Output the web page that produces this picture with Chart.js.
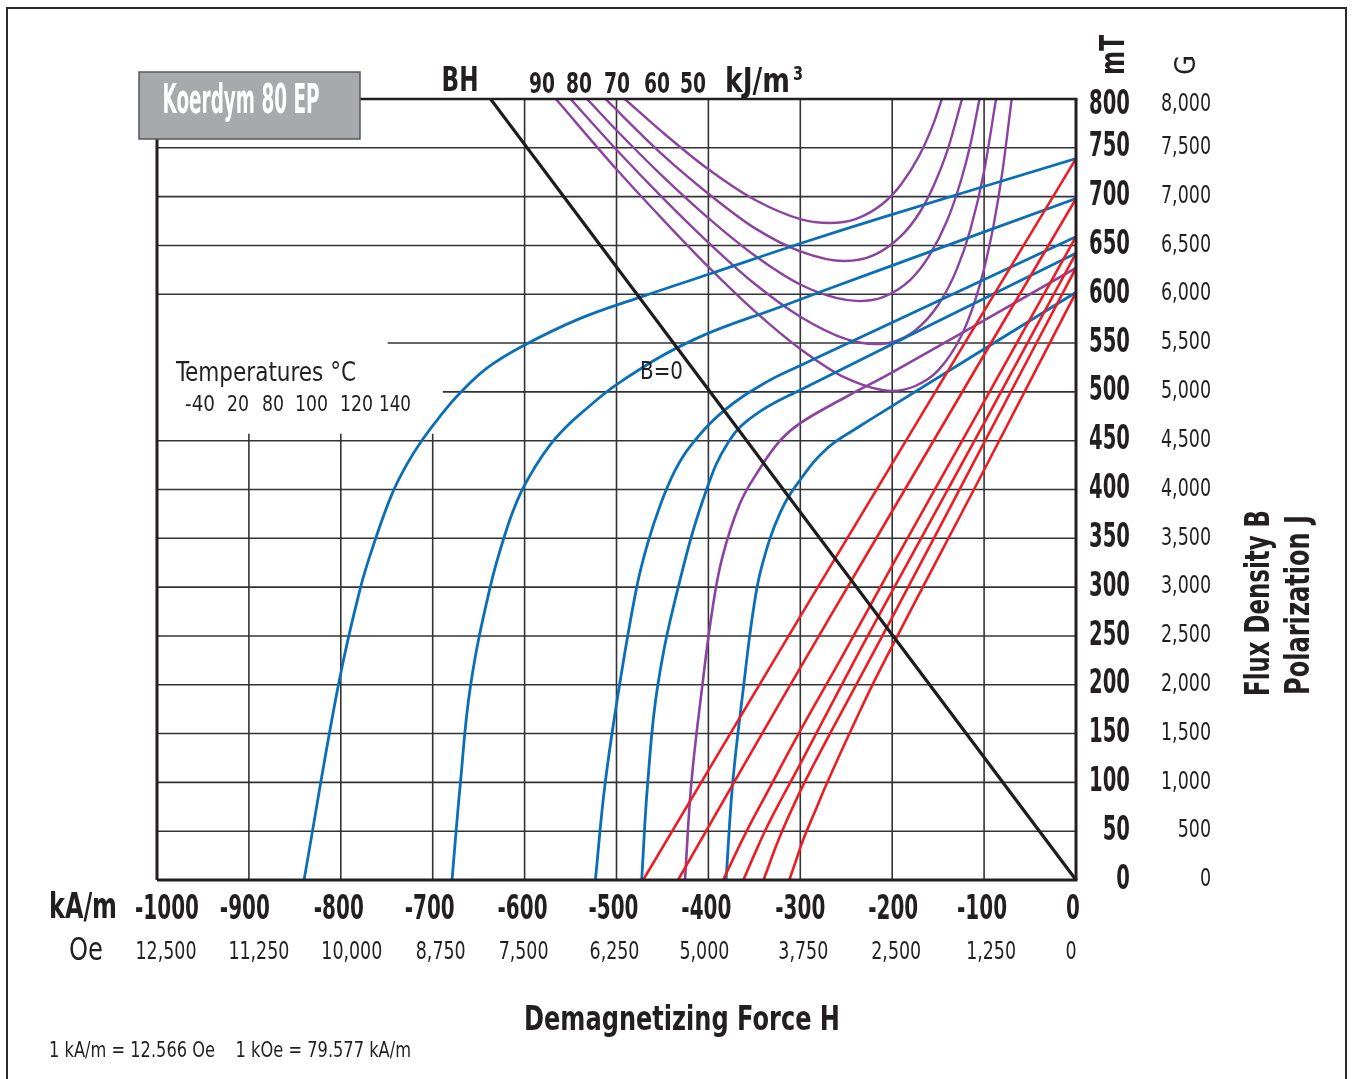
<!DOCTYPE html>
<html><head><meta charset="utf-8">
<script src="https://cdn.jsdelivr.net/npm/chart.js@4.4.1/dist/chart.umd.min.js"></script>
<style>
html,body{margin:0;padding:0;background:#fff;}
#wrap{position:relative;width:1353px;height:1079px;}
</style></head><body>
<div id="wrap"><canvas id="c" width="1353" height="1079"></canvas></div>
<script>
// ---------- DATA ----------
const hTicks = [-1000,-900,-800,-700,-600,-500,-400,-300,-200,-100,0];
const hTickLabels = ['-1000','-900','-800','-700','-600','-500','-400','-300','-200','-100','0'];
const oeLabels = ['12,500','11,250','10,000','8,750','7,500','6,250','5,000','3,750','2,500','1,250','0'];
const bTicks = [0,50,100,150,200,250,300,350,400,450,500,550,600,650,700,750,800];
const bTickLabels = ['0','50','100','150','200','250','300','350','400','450','500','550','600','650','700','750','800'];
const gaussLabels = ['0','500','1,000','1,500','2,000','2,500','3,000','3,500','4,000','4,500','5,000','5,500','6,000','6,500','7,000','7,500','8,000'];
const temperatures = ['-40','20','80','100','120','140'];
const energyLabels = ['90','80','70','60','50'];

// Polarization J (mT) vs H (kA/m), per temperature
const jM40H = [-840,-803,-779,-762,-744,-728,-712,-692,-670,-640,-602,-540,-474,-398,-300,-213,0];
const jM40  = [0,198,298,350,396,426,450,475,499,525,547,575,597,621,652,678,739];
const j20H  = [-679,-670,-659,-638,-620,-605,-588,-572,-556,-540,-496,-417,-322,-213,0];
const j20   = [0,98,198,298,358,395,424,446,463,477,510,553,587,625,698];
const j80H  = [-523,-512.5,-497,-478,-466,-452,-436,-420,-384,-337,-300,0];
const j80   = [0,98,198,300,345,385,420,444,480,510,527,659];
const j100H = [-472.6,-466,-455,-431,-402,-378,-350,-300,0];
const j100  = [0,100,200,307,400,449,476,502,642];
const j120H = [-425.5,-418.5,-406.5,-396,-385,-366,-345,-322,-300,-250,-200,0];
const j120  = [0,100,200,275,330,385,420,450,468,495,520,627];
const j140H = [-380.8,-373.5,-361.5,-351.5,-342,-322,-300,-271,-235,-213,0];
const j140  = [0,100,200,274,321,376,410,442,465,478,602];

// Flux density B (mT) vs H (kA/m), per temperature
const bM40H = [-471,-300,0];
const bM40  = [0,270,739];
const b20H  = [-433,-322,-213,0];
const b20   = [0,182,357,698];
const b80H  = [-384,-360,-337,-300,-255,-200,-100,0];
const b80   = [0,47,88,153,228,322,490,659];
const b100H = [-362,-350,-337,-320,-300,-242,-200,-100,0];
const b100  = [0,26,53,84,119,223,296,468,642];
const b120H = [-340,-322,-300,-280,-250,-200,-100,0];
const b120  = [0,45,91,128,181,269,448,627];
const b140H = [-312,-305,-297,-285,-272,-247,-214,-100,0];
const b140  = [0,19,41,68,97,149,214,420,602];

// Energy product curves (kJ/m3) drawn in the J-H plane
const e50H = [-566,-500,-450,-400,-350,-300,-250,-200,-175,-150,-125,-110,-100,-90,-80,-70];
const e50  = [800,728,677,628,583,544,514,501,506,522,557,593,626,669,726,800];
const e60H = [-550,-500,-450,-400,-350,-300,-250,-218,-200,-175,-150,-130,-115,-100,-87];
const e60  = [800,748,699,653,611,577,554,549,551,563,589,625,666,726,800];
const e70H = [-532,-500,-450,-400,-350,-300,-260,-236,-210,-180,-160,-140,-125,-115,-105];
const e70  = [800,768,721,678,640,610,596,593,597,615,639,676,717,753,800];
const e80H = [-512,-450,-400,-350,-300,-252,-220,-190,-170,-155,-140,-124];
const e80  = [800,743,703,668,644,634,640,660,684,711,747,800];
const e90H = [-491,-450,-400,-350,-300,-268,-240,-210,-190,-170,-155,-146];
const e90  = [800,766,728,697,677,673,677,693,713,743,775,800];

// B = 0 line (J = -mu0 H)
const bZeroH = [-637,0];
const bZeroJ = [800,0];

// ---------- STYLE ----------
const FONT = '"Liberation Sans Narrow","DejaVu Sans Condensed","Arial Narrow",sans-serif';
const INK = '#231f20';
const BLUE = '#0a6fb7', RED = '#ec1c24', PURPLE = '#8b439f', BLACK = '#1e1c1d';

const pts = (hs, vs) => hs.map((h, i) => ({x: h, y: vs[i]}));
function ds(hs, vs, color, width, mode) {
  return {data: pts(hs, vs), showLine: true, borderColor: color, backgroundColor: color,
    borderWidth: width, pointRadius: 0, fill: false,
    cubicInterpolationMode: mode === 'mono' ? 'monotone' : 'default',
    tension: mode === 'spline' ? 0.4 : 0};
}

const datasets = [
  ds(bZeroH, bZeroJ, BLACK, 3.2, 'line'),
  ds(bM40H, bM40, RED, 2.6, 'spline'),
  ds(b20H, b20, RED, 2.6, 'spline'),
  ds(b80H, b80, RED, 2.6, 'spline'),
  ds(b100H, b100, RED, 2.6, 'spline'),
  ds(b120H, b120, RED, 2.6, 'spline'),
  ds(b140H, b140, RED, 2.6, 'spline'),
  ds(jM40H, jM40, BLUE, 2.8, 'spline'),
  ds(j20H, j20, BLUE, 2.8, 'spline'),
  ds(j80H, j80, BLUE, 2.8, 'spline'),
  ds(j100H, j100, BLUE, 2.8, 'spline'),
  ds(j120H, j120, PURPLE, 2.6, 'spline'),
  ds(j140H, j140, BLUE, 2.8, 'spline'),
  ds(e90H, e90, PURPLE, 2.4, 'mono'),
  ds(e80H, e80, PURPLE, 2.4, 'mono'),
  ds(e70H, e70, PURPLE, 2.4, 'mono'),
  ds(e60H, e60, PURPLE, 2.4, 'mono'),
  ds(e50H, e50, PURPLE, 2.4, 'mono'),
];

// grid segments: [value, from, to] (layout of the printed grid)
const hGridSeg = [[50,-1000,0],[100,-1000,0],[150,-1000,0],[200,-1000,0],[250,-1000,0],[300,-1000,0],[350,-1000,0],[400,-1000,0],[450,-1000,0],[500,-689,0],[550,-749,0],[600,-1000,0],[650,-1000,0],[700,-1000,0],[750,-1000,0]];
const vGridSeg = [[-900,0,457],[-800,0,457],[-700,0,457],[-600,0,800],[-500,0,800],[-400,0,800],[-300,0,800],[-200,0,800],[-100,0,800]];

function fitScale(ctx, font, sample, width) {
  ctx.save(); ctx.font = font; const m = ctx.measureText(sample).width; ctx.restore();
  return m > 0 ? width / m : 1;
}
function txt(ctx, s, x, y, font, o) {
  o = o || {};
  ctx.save();
  ctx.font = font;
  ctx.fillStyle = o.color || INK;
  ctx.textAlign = o.align || 'left';
  ctx.textBaseline = 'middle';
  ctx.translate(x, y);
  if (o.rot) ctx.rotate(o.rot);
  if (o.w) { const m = ctx.measureText(s).width; if (m > 0) ctx.scale(o.w / m, 1); }
  else if (o.sx) ctx.scale(o.sx, 1);
  ctx.fillText(s, 0, 0);
  ctx.restore();
}
function seg(ctx, x1, y1, x2, y2) { ctx.beginPath(); ctx.moveTo(x1, y1); ctx.lineTo(x2, y2); ctx.stroke(); }

const deco = {
  id: 'deco',
  beforeDatasetsDraw(chart) {
    const ctx = chart.ctx, xs = chart.scales.x, ys = chart.scales.y;
    ctx.save();
    ctx.strokeStyle = '#333333';
    ctx.lineWidth = 1.6;
    hGridSeg.forEach(([b, h0, h1]) => { const y = ys.getPixelForValue(b); seg(ctx, xs.getPixelForValue(h0), y, xs.getPixelForValue(h1), y); });
    vGridSeg.forEach(([h, b0, b1]) => { const x = xs.getPixelForValue(h); seg(ctx, x, ys.getPixelForValue(b0), x, ys.getPixelForValue(b1)); });
    ctx.restore();
  },
  afterDatasetsDraw(chart) {
    const ctx = chart.ctx, xs = chart.scales.x, ys = chart.scales.y, a = chart.chartArea;
    ctx.save();
    ctx.strokeStyle = '#2b2b2b'; ctx.lineWidth = 2;
    ctx.strokeRect(7, 8, 1339, 1100);
    ctx.strokeStyle = INK;
    ctx.lineWidth = 3;
    seg(ctx, a.left, a.bottom, a.right + 1.5, a.bottom);
    seg(ctx, a.right, a.top, a.right, a.bottom);
    seg(ctx, a.left, a.top, a.left, a.bottom);
    ctx.lineWidth = 2.5;
    seg(ctx, a.left, a.top, a.right + 1.5, a.top);
    ctx.fillStyle = '#a7a9ac';
    ctx.fillRect(139, 72, 221, 67);
    ctx.strokeStyle = '#58595b'; ctx.lineWidth = 1.5;
    ctx.strokeRect(139, 72, 221, 67);
    ctx.restore();

    const B = 'bold ', R = 'normal ';
    const fxb = B + '33px ' + FONT, fxr = R + '24px ' + FONT;
    const sxb = fitScale(ctx, fxb, '-1000', 64), sxr = fitScale(ctx, fxr, '12,500', 61);
    const kaNudge = [10, -4, -2, -3, -2, -3, -2, 0, 1, -2, -3];
    const oeNudge = [9, 10, 11, 8, -1, -2, -4, 3, 4, 7, -5];
    hTicks.forEach((h, i) => {
      const x = xs.getPixelForValue(h);
      txt(ctx, hTickLabels[i], x + kaNudge[i], 910, fxb, {align: 'center', sx: sxb});
      txt(ctx, oeLabels[i], x + oeNudge[i], 953, fxr, {align: 'center', sx: sxr});
    });
    const syb = fitScale(ctx, fxb, '800', 41), syr = fitScale(ctx, fxr, '8,000', 50);
    bTicks.forEach((b, i) => {
      const y = ys.getPixelForValue(b) + (b === 800 ? 6 : 0);
      txt(ctx, bTickLabels[i], 1130, y, fxb, {align: 'right', sx: syb});
      txt(ctx, gaussLabels[i], 1211, y, fxr, {align: 'right', sx: syr});
    });

    txt(ctx, 'Koerdym 80 EP', 241, 103, B + '40px ' + FONT, {align: 'center', color: '#ffffff', w: 157});
    txt(ctx, 'BH', 460, 82, B + '33px ' + FONT, {align: 'center', w: 37});
    const ex = [542, 579, 617, 657, 693];
    energyLabels.forEach((s, i) => txt(ctx, s, ex[i], 85, B + '29px ' + FONT, {align: 'center', w: 26}));
    txt(ctx, 'kJ/m', 725, 83, B + '33px ' + FONT, {w: 65});
    txt(ctx, '3', 793, 75, B + '20px ' + FONT, {w: 10});
    txt(ctx, 'Temperatures \u00b0C', 176, 374, R + '26px ' + FONT, {w: 180});
    const tx = [200, 238, 273, 311.5, 356.5, 395];
    const tw = [30, 22, 22, 33, 33, 32];
    temperatures.forEach((s, i) => txt(ctx, s, tx[i], 405, R + '22px ' + FONT, {align: 'center', w: tw[i]}));
    txt(ctx, 'B=0', 640, 372, R + '25px ' + FONT, {w: 43});
    txt(ctx, 'kA/m', 49, 909, B + '35px ' + FONT, {w: 68});
    txt(ctx, 'Oe', 69, 952, R + '32px ' + FONT, {w: 34});
    txt(ctx, 'mT', 1115, 55, B + '33px ' + FONT, {align: 'center', rot: -Math.PI / 2, w: 40});
    txt(ctx, 'G', 1187, 65, R + '29px ' + FONT, {align: 'center', rot: -Math.PI / 2, w: 20});
    txt(ctx, 'Flux Density B', 1260, 603, B + '34px ' + FONT, {align: 'center', rot: -Math.PI / 2, w: 186});
    txt(ctx, 'Polarization J', 1300, 605, B + '34px ' + FONT, {align: 'center', rot: -Math.PI / 2, w: 180});
    txt(ctx, 'Demagnetizing Force H', 682, 1021, B + '34px ' + FONT, {align: 'center', w: 316});
    txt(ctx, '1 kA/m = 12.566 Oe    1 kOe = 79.577 kA/m', 49, 1051, R + '22px ' + FONT, {w: 362});
  }
};

new Chart(document.getElementById('c'), {
  type: 'scatter',
  data: {datasets},
  options: {
    responsive: false,
    animation: false,
    events: [],
    layout: {padding: {left: 157, top: 99, right: 277, bottom: 199}},
    plugins: {legend: {display: false}, tooltip: {enabled: false}, title: {display: false}},
    scales: {
      x: {
        type: 'linear', min: -1000, max: 0,
        afterBuildTicks: s => { s.ticks = hTicks.map(v => ({value: v})); },
        afterFit: s => { s.height = 0; },
        grid: {display: false}, border: {display: false},
        ticks: {display: false}
      },
      y: {
        type: 'linear', position: 'right', min: 0, max: 800,
        afterBuildTicks: s => { s.ticks = bTicks.map(v => ({value: v})); },
        afterFit: s => { s.width = 0; },
        grid: {display: false}, border: {display: false},
        ticks: {display: false}
      }
    }
  },
  plugins: [deco]
});
</script>
</body></html>
